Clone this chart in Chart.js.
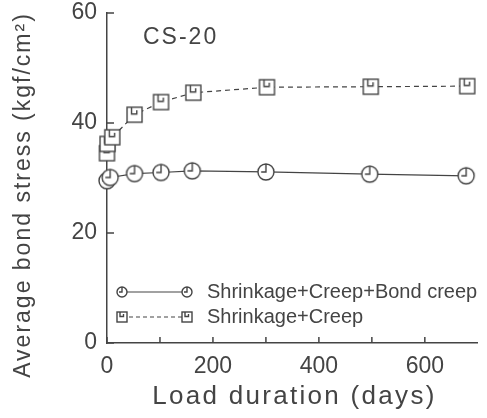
<!DOCTYPE html>
<html>
<head>
<meta charset="utf-8">
<script src="https://cdn.jsdelivr.net/npm/chart.js@4.4.1/dist/chart.umd.min.js"></script>
<style>
  body { margin: 0; background: #fff; }
  #bond { display: block; }
</style>
</head>
<body>
<canvas id="bond" width="487" height="418"></canvas>
<script>
// CS-20 bond stress vs load duration

var daysA = [0, 6, 52, 102, 161, 300, 496, 678];
var stressA = [29.5, 30.1, 30.8, 31.0, 31.3, 31.1, 30.7, 30.4];
var daysB = [0, 1, 10, 52, 102, 163, 302, 498, 680];
var stressB = [34.5, 36.2, 37.4, 41.5, 43.8, 45.5, 46.5, 46.6, 46.7];
var labelA = "Shrinkage+Creep+Bond creep";
var labelB = "Shrinkage+Creep";
var xTicks = [0, 200, 400, 600];
var xMinor = [100, 300, 500];
var yTicks = [0, 20, 40, 60];

var ink = "#444";
var FONT = "'Liberation Sans', Arial, sans-serif";

function toPoints(xs, ys) {
    return xs.map(function (x, i) { return { x: x, y: ys[i] }; });
}

// plotter style markers: open circle / square with a small mark inside
function circleMark(r) {
    var c = document.createElement("canvas");
    var s = r * 2 + 4;
    c.width = s; c.height = s;
    var g = c.getContext("2d");
    var m = s / 2;
    g.fillStyle = "#fff";
    g.strokeStyle = ink;
    g.lineWidth = 1.4;
    g.beginPath(); g.arc(m, m, r, 0, Math.PI * 2); g.fill(); g.stroke();
    g.beginPath();
    g.moveTo(m, m - r); g.lineTo(m, m); g.lineTo(m - r * 0.6, m);
    g.stroke();
    return c;
}

function squareMark(h) {
    var c = document.createElement("canvas");
    var s = Math.ceil(h * 2 + 4);
    c.width = s; c.height = s;
    var g = c.getContext("2d");
    var m = s / 2;
    g.fillStyle = "#fff";
    g.strokeStyle = ink;
    g.lineWidth = 1.4;
    g.fillRect(m - h, m - h, h * 2, h * 2);
    g.strokeRect(m - h, m - h, h * 2, h * 2);
    g.beginPath();
    g.moveTo(m - h * 0.4, m - h); g.lineTo(m - h * 0.4, m - h * 0.1);
    g.lineTo(m + h * 0.3, m - h * 0.1); g.lineTo(m + h * 0.3, m - h * 0.6);
    g.stroke();
    return c;
}

var circleBig = circleMark(8);
var squareBig = squareMark(7.5);
var circleSmall = circleMark(5);
var squareSmall = squareMark(5);

// inward ticks, titles, label and legend
var decor = {
    id: "decor",
    afterDraw: function (chart) {
        var ctx = chart.ctx;
        var xs = chart.scales.x, ys = chart.scales.y;
        var a = chart.chartArea;
        ctx.save();
        ctx.strokeStyle = ink;
        ctx.lineWidth = 1.5;
        ctx.beginPath();
        xTicks.concat(xMinor).forEach(function (v) {
            var px = xs.getPixelForValue(v);
            ctx.moveTo(px, a.bottom); ctx.lineTo(px, a.bottom - 6);
        });
        yTicks.forEach(function (v) {
            var py = ys.getPixelForValue(v);
            ctx.moveTo(a.left, py); ctx.lineTo(a.left + 7, py);
        });
        ctx.stroke();

        ctx.fillStyle = ink;
        ctx.textBaseline = "middle";
        ctx.textAlign = "left";
        ctx.letterSpacing = "2px";
        ctx.font = "23px " + FONT;
        ctx.fillText("CS-20", 143, 38);

        ctx.textAlign = "center";
        ctx.letterSpacing = "2.3px";
        ctx.font = "26px " + FONT;
        ctx.fillText("Load duration (days)", (a.left + a.right) / 2 + 2, 397);

        ctx.save();
        ctx.translate(24, 195);
        ctx.rotate(-Math.PI / 2);
        ctx.letterSpacing = "2px";
        ctx.font = "23px " + FONT;
        ctx.fillText("Average bond stress (kgf/cm\u00b2)", 0, 0);
        ctx.restore();

        // legend
        var rows = [
            { y: 292, mark: circleSmall, dash: [], text: labelA },
            { y: 317, mark: squareSmall, dash: [4, 3], text: labelB }
        ];
        ctx.textAlign = "left";
        ctx.letterSpacing = "0px";
        ctx.font = "20px " + FONT;
        rows.forEach(function (r) {
            ctx.setLineDash(r.dash);
            ctx.lineWidth = 1.2;
            ctx.beginPath(); ctx.moveTo(122, r.y); ctx.lineTo(187, r.y); ctx.stroke();
            ctx.setLineDash([]);
            ctx.drawImage(r.mark, 122 - r.mark.width / 2, r.y - r.mark.height / 2);
            ctx.drawImage(r.mark, 187 - r.mark.width / 2, r.y - r.mark.height / 2);
            ctx.fillText(r.text, 207, r.y);
        });
        ctx.restore();
    }
};

new Chart("bond", {
    type: "scatter",
    data: {
        datasets: [{
            label: labelA,
            data: toPoints(daysA, stressA),
            showLine: true,
            borderColor: ink,
            borderWidth: 1.2,
            pointStyle: circleBig,
            pointRadius: 8
        }, {
            label: labelB,
            data: toPoints(daysB, stressB),
            showLine: true,
            borderColor: ink,
            borderWidth: 1.2,
            borderDash: [5, 4],
            pointStyle: squareBig,
            pointRadius: 8
        }]
    },
    options: {
        responsive: false,
        animation: false,
        clip: false,
        layout: { padding: { top: 13, right: 2, left: 0, bottom: 0 } },
        plugins: { legend: { display: false }, tooltip: { enabled: false } },
        scales: {
            x: {
                type: "linear",
                min: 0, max: 700,
                afterFit: function (s) { s.height = 75; s.paddingRight = 0; s.paddingLeft = 0; },
                afterBuildTicks: function (s) { s.ticks = xTicks.map(function (v) { return { value: v }; }); },
                grid: { display: false, drawTicks: false },
                border: { color: ink, width: 1.5 },
                ticks: { color: ink, font: { family: FONT, size: 23 }, padding: 10, maxRotation: 0 }
            },
            y: {
                min: 0, max: 60,
                afterFit: function (s) { s.width = 107; s.paddingTop = 0; s.paddingBottom = 0; },
                afterBuildTicks: function (s) { s.ticks = yTicks.map(function (v) { return { value: v }; }); },
                grid: { display: false, drawTicks: false },
                border: { color: ink, width: 1.5 },
                ticks: { color: ink, font: { family: FONT, size: 23 }, padding: 10 }
            }
        }
    },
    plugins: [decor]
});
</script>
</body>
</html>
